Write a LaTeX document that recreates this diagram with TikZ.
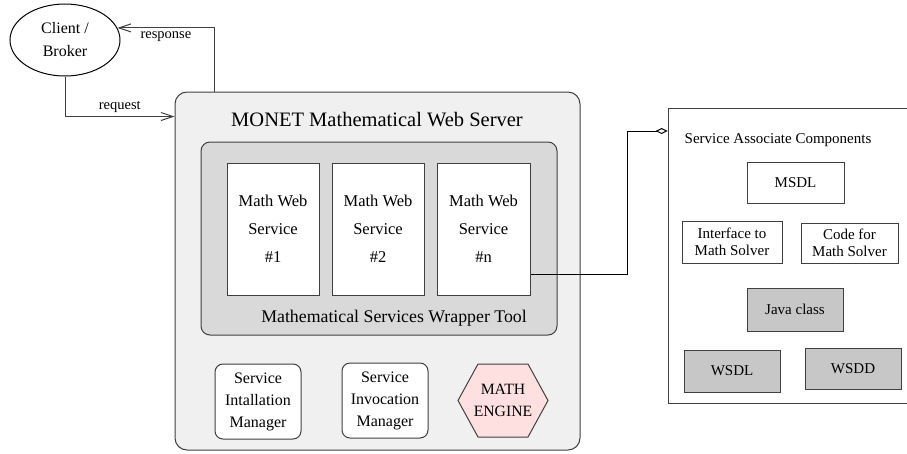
\documentclass[tikz,border=0pt]{standalone}
\usepackage{fontspec}
\setmainfont{Liberation Serif}
\usetikzlibrary{shapes.geometric,arrows.meta}

\begin{document}
\begin{tikzpicture}[x=1pt,y=-1pt,line width=1pt,
    barb/.style={-{Straight Barb[length=12pt,width=8pt]}},
    dia/.style={-{Diamond[open,length=12pt,width=6pt]}},
    box/.style={draw=black!75,inner sep=0pt,align=center},
    wsbox/.style={box,fill=white,minimum width=92pt,minimum height=132pt,font=\fontsize{16.5}{28}\selectfont},
    mgrbox/.style={box,fill=white,rounded corners=8pt,minimum width=86pt,minimum height=75pt,font=\fontsize{16}{22}\selectfont},
    compbox/.style={box,fill=white,minimum width=97pt,minimum height=41pt,font=\fontsize{15}{17}\selectfont},
    graybox/.style={compbox,fill=black!22}]
    \useasboundingbox (0,0) rectangle (907,453);
        \node[draw,ellipse,minimum width=110pt,minimum height=72pt,align=center,font=\fontsize{16}{23}\selectfont] (client) at (65,40) {Client /\\Broker};
        \node[box,rounded corners=12pt,fill=black!6,minimum width=405pt,minimum height=358pt] (server) at (377.5,271) {};
        \node[font=\fontsize{20.5}{24}\selectfont] (srvtitle) at (377,120) {MONET Mathematical Web Server};
        \node[box,rounded corners=9pt,fill=black!15,minimum width=356pt,minimum height=193pt] (wrapper) at (379,238.5) {};
        \node[wsbox] (ws1) at (273,229) {Math Web\\Service\\\#1};
        \node[wsbox] (ws2) at (378,229) {Math Web\\Service\\\#2};
        \node[wsbox,minimum width=93pt] (wsn) at (483.5,229) {Math Web\\Service\\\#n};
        \node[font=\fontsize{17.8}{20}\selectfont] (wraplabel) at (394,318) {Mathematical Services Wrapper Tool};
        \node[mgrbox] (install) at (258,401.5) {Service\\Intallation\\Manager};
        \node[mgrbox] (invoke) at (385,400.5) {Service\\Invocation\\Manager};
        \draw[draw=black!75,fill=red!12] (458,400.5) -- (478,364) -- (528,364) -- (548,400.5) -- (528,437) -- (478,437) -- cycle;
        \node[align=center,font=\fontsize{15.7}{22}\selectfont] (engine) at (503,400.5) {MATH\\ENGINE};
        \node[box,fill=white,minimum width=242pt,minimum height=295pt] (comps) at (789,255.5) {};
        \node[font=\fontsize{15}{18}\selectfont] (compstitle) at (778,140) {Service Associate Components};
        \node[compbox] (msdl) at (795.5,182.5) {MSDL};
        \node[compbox,minimum width=100pt,minimum height=42pt] (iface) at (732,242) {Interface to\\Math Solver};
        \node[compbox,minimum height=40pt] (code) at (849.5,243) {Code for\\Math Solver};
        \node[graybox,minimum width=96pt,minimum height=43pt] (java) at (795,309.5) {Java class};
        \node[graybox,minimum width=96pt,minimum height=42pt] (wsdl) at (732,371) {WSDL};
        \node[graybox,minimum width=96pt] (wsdd) at (853,368.5) {WSDD};
        \draw[barb,black!75] ([xshift=40pt]server.north west) |- (client.13)
            node[pos=0.75,below,black,font=\fontsize{14.5}{16}\selectfont] {response};
        \draw[barb,black!75] (client.south) |- ([yshift=-25pt]server.north west)
            node[pos=0.75,above,black,font=\fontsize{14.5}{16}\selectfont] {request};
        \draw[dia] ([yshift=-45pt]wsn.east) -- ++(97pt,0) |- ([yshift=124.5pt]comps.west);
    \end{tikzpicture}
\end{document}
